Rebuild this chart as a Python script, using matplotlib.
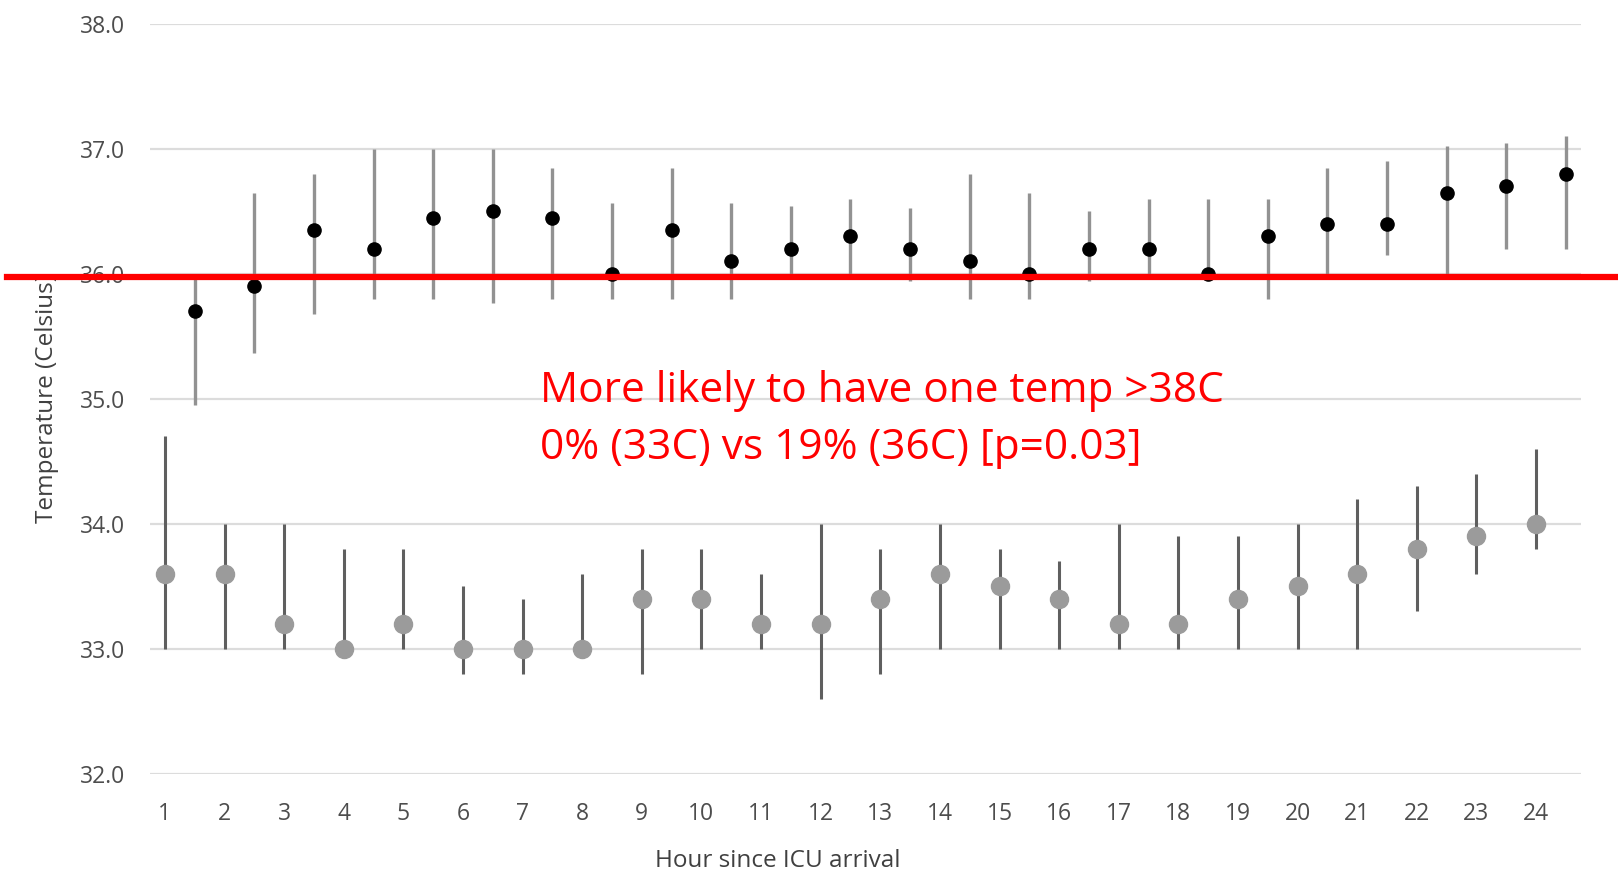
import matplotlib.pyplot as plt

hours = list(range(1, 25))

# 33C group (grey), plotted on the hour
cool_mean = [33.6, 33.6, 33.2, 33.0, 33.2, 33.0, 33.0, 33.0, 33.4, 33.4, 33.2, 33.2,
             33.4, 33.6, 33.5, 33.4, 33.2, 33.2, 33.4, 33.5, 33.6, 33.8, 33.9, 34.0]
cool_lo = [33.0, 33.0, 33.0, 33.0, 33.0, 32.8, 32.8, 33.0, 32.8, 33.0, 33.0, 32.6,
           32.8, 33.0, 33.0, 33.0, 33.0, 33.0, 33.0, 33.0, 33.0, 33.3, 33.6, 33.8]
cool_hi = [34.7, 34.0, 34.0, 33.8, 33.8, 33.5, 33.4, 33.6, 33.8, 33.8, 33.6, 34.0,
           33.8, 34.0, 33.8, 33.7, 34.0, 33.9, 33.9, 34.0, 34.2, 34.3, 34.4, 34.6]

# 36C group (black), offset half an hour
warm_mean = [35.7, 35.9, 36.35, 36.2, 36.45, 36.5, 36.45, 36.0, 36.35, 36.1, 36.2, 36.3,
             36.2, 36.1, 36.0, 36.2, 36.2, 36.0, 36.3, 36.4, 36.4, 36.65, 36.7, 36.8]
warm_lo = [34.95, 35.37, 35.68, 35.8, 35.8, 35.77, 35.8, 35.8, 35.8, 35.8, 36.0, 36.0,
           35.94, 35.8, 35.8, 35.94, 36.0, 36.0, 35.8, 36.0, 36.15, 36.0, 36.2, 36.2]
warm_hi = [36.0, 36.65, 36.8, 37.0, 37.0, 37.0, 36.85, 36.57, 36.85, 36.57, 36.54, 36.6,
           36.53, 36.8, 36.65, 36.5, 36.6, 36.6, 36.6, 36.85, 36.9, 37.02, 37.05, 37.1]

threshold = 35.975
note = 'More likely to have one temp >38C\n0% (33C) vs 19% (36C) [p=0.03]'

plt.rcParams['font.family'] = ['Open Sans', 'DejaVu Sans']

fig = plt.figure(figsize=(16.18, 8.73), dpi=100)
ax = fig.add_axes([0.0927, 0.1134, 0.8843, 0.8594])

ax.set_xlim(0.75, 24.75)
ax.set_ylim(32, 38)
ax.set_yticks([32, 33, 34, 35, 36, 37, 38])
ax.set_yticklabels([f'{v:.1f}' for v in ax.get_yticks()])
ax.set_xticks(hours)
ax.grid(axis='y', color='#dcdcdc', linewidth=1.6)
ax.set_axisbelow(True)
for s in ax.spines.values():
    s.set_visible(False)
ax.tick_params(length=0, labelsize=16.5, colors='#4d4d4d')
ax.tick_params(axis='x', pad=20)
ax.tick_params(axis='y', pad=18)

ax.vlines(hours, cool_lo, cool_hi, color='#5f5f5f', linewidth=2.2, zorder=2)
ax.plot(hours, cool_mean, 'o', color='#9b9b9b', markersize=13, zorder=3)

warm_x = [h + 0.5 for h in hours]
ax.vlines(warm_x, warm_lo, warm_hi, color='#929292', linewidth=2.4, zorder=2)
ax.plot(warm_x, warm_mean, 'o', color='black', markersize=9.5, zorder=3)

ax.axhline(threshold, xmin=-0.1, xmax=1.1, color='#ff0000', linewidth=4.5,
           clip_on=False, zorder=4)

ax.text(7.3, 34.44, note, color='#ff0000', fontsize=30.5, linespacing=1.48,
        va='bottom', ha='left')

ax.set_ylabel('Temperature (Celsius)', fontsize=17.5, color='#404040', labelpad=15)
ax.set_xlabel('Hour since ICU arrival', fontsize=17.5, color='#404040')
ax.xaxis.set_label_coords(0.439, -0.10)

fig.savefig('out.png', dpi=100)
